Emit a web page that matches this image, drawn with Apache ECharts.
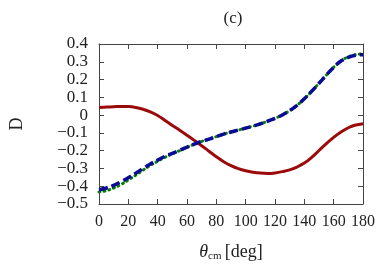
<!DOCTYPE html>
<html><head><meta charset="utf-8">
<script src="https://cdn.jsdelivr.net/npm/echarts@6/dist/echarts.min.js"></script>
<style>html,body{margin:0;padding:0;background:#fff}#c{width:382px;height:269px}</style>
</head><body><div id="c"></div>
<script>
const theta = [0,5,10,15,20,25,30,35,40,45,50,55,60,65,70,75,80,85,90,95,100,105,110,115,120,125,130,135,140,145,150,155,160,165,170,175,180];
const redD = [0.043,0.045,0.047,0.049,0.048,0.043,0.033,0.018,-0.002,-0.030,-0.058,-0.085,-0.113,-0.142,-0.172,-0.203,-0.234,-0.262,-0.284,-0.301,-0.313,-0.321,-0.326,-0.328,-0.325,-0.318,-0.308,-0.292,-0.270,-0.238,-0.199,-0.160,-0.125,-0.095,-0.071,-0.056,-0.048];
const blueD = [-0.420,-0.410,-0.395,-0.375,-0.352,-0.327,-0.300,-0.275,-0.253,-0.232,-0.215,-0.198,-0.180,-0.163,-0.148,-0.135,-0.121,-0.107,-0.095,-0.084,-0.073,-0.062,-0.049,-0.034,-0.018,0.001,0.025,0.055,0.092,0.134,0.179,0.225,0.269,0.304,0.325,0.337,0.340];
const greenD = [-0.432,-0.425,-0.410,-0.390,-0.365,-0.338,-0.310,-0.283,-0.259,-0.237,-0.218,-0.200,-0.181,-0.164,-0.148,-0.135,-0.121,-0.107,-0.095,-0.084,-0.073,-0.062,-0.049,-0.034,-0.018,0.001,0.025,0.055,0.092,0.134,0.179,0.225,0.269,0.305,0.328,0.340,0.345];
const xTicks = [0,20,40,60,80,100,120,140,160,180];
const yTicks = [-0.5,-0.4,-0.3,-0.2,-0.1,0,0.1,0.2,0.3,0.4];

const font = '"Liberation Serif", "DejaVu Serif", serif';
const axColor = '#444';
const pair = a => theta.map((t,i)=>[t,a[i]]);
const fmtY = v => { const r = Math.round(v*10)/10; if (r===0) return '0'; return (r<0?'\u2212':'') + Math.abs(r).toString(); };

const baseX = {type:'value', min:0, max:180, interval:20,
  axisLine:{show:true, onZero:false, lineStyle:{color:axColor, width:1}},
  axisTick:{show:true, inside:true, length:5, lineStyle:{color:axColor}},
  splitLine:{show:false}};
const baseY = {type:'value', min:-0.5, max:0.4, interval:0.1,
  axisLine:{show:true, onZero:false, lineStyle:{color:axColor, width:1}},
  axisTick:{show:true, inside:true, length:5, lineStyle:{color:axColor}},
  splitLine:{show:false}};

const chart = echarts.init(document.getElementById('c'), null, {renderer:'canvas'});
chart.setOption({
  animation:false,
  backgroundColor:'#fff',
  title:{text:'(c)', left:228, top:5, textAlign:'center',
    textStyle:{fontFamily:font, fontSize:17, fontWeight:'normal', color:'#222'}},
  grid:{left:92, right:19, top:44, bottom:65},
  xAxis:[
    Object.assign({}, baseX, {position:'bottom',
      axisLabel:{show:true, margin:10, fontFamily:font, fontSize:16, color:'#222', formatter:v=>String(v)},
      name:'{t|θ}{s|cm} {n|[deg]}', nameLocation:'middle', nameGap:38,
      nameTextStyle:{rich:{t:{fontFamily:font, fontStyle:'italic', fontSize:18, color:'#222'},
        s:{fontFamily:font, fontSize:11, color:'#222', verticalAlign:'bottom', padding:[9,0,0,0]},
        n:{fontFamily:font, fontSize:18, color:'#222'}}}}),
    Object.assign({}, baseX, {position:'top', axisLabel:{show:false}})
  ],
  yAxis:[
    Object.assign({}, baseY, {position:'left',
      axisLabel:{show:true, margin:11, fontFamily:font, fontSize:17, color:'#222', formatter:fmtY},
      name:'D', nameLocation:'middle', nameGap:73, nameRotate:90,
      nameTextStyle:{fontFamily:font, fontSize:18, color:'#222'}}),
    Object.assign({}, baseY, {position:'right', axisLabel:{show:false}})
  ],
  series:[
    {type:'line', data:pair(redD), smooth:0.4, showSymbol:false,
      lineStyle:{color:'#9b0a0a', width:3}},
    {type:'line', data:pair(greenD), smooth:0.4, showSymbol:false,
      lineStyle:{color:'#0a7d0a', width:3, type:[1,4], cap:'round'}},
    {type:'line', data:pair(blueD), smooth:0.4, showSymbol:false,
      lineStyle:{color:'#0a0a96', width:3.5, type:[9,4]}}
  ]
});
</script></body></html>
